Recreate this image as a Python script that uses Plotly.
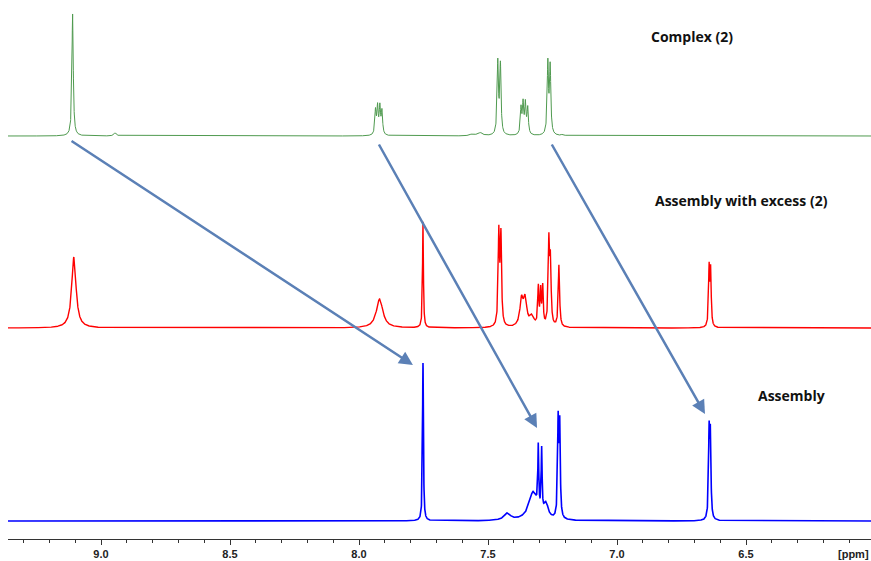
import numpy as np
import plotly.graph_objects as go

# ---------------- data ----------------
# Peak tables: chemical shift (ppm), peak height (display units), line width FWHM (ppm)
green_ppm = [9.110, 8.945, 7.936, 7.928, 7.919, 7.911, 7.560, 7.530, 7.462, 7.452,
             7.372, 7.364, 7.355, 7.346, 7.268, 7.259, 7.210]
green_h   = [122, 3, 24, 27, 27, 23, 2, 3, 72, 69,
             26, 30, 30, 26, 71, 67, 1.5]
green_w   = [0.006, 0.012, 0.006, 0.006, 0.006, 0.006, 0.02, 0.02, 0.006, 0.006,
             0.006, 0.006, 0.006, 0.006, 0.006, 0.006, 0.01]

red_ppm = [9.105, 7.920, 7.752, 7.458, 7.450, 7.370, 7.356, 7.330, 7.305, 7.296,
           7.288, 7.264, 7.258, 7.225, 6.643, 6.637]
red_h   = [71, 29, 106, 92, 88, 26, 26, 10, 38, 34,
           38, 82, 60, 62, 58, 55]
red_w   = [0.02, 0.03, 0.004, 0.006, 0.006, 0.015, 0.015, 0.02, 0.005, 0.005,
           0.005, 0.006, 0.006, 0.006, 0.005, 0.005]

blue_ppm = [7.752, 7.425, 7.325, 7.275, 7.305, 7.292, 7.228, 7.222, 6.643, 6.638]
blue_h   = [158, 7, 28, 14, 62, 62, 95, 90, 84, 80]
blue_w   = [0.004, 0.03, 0.04, 0.02, 0.004, 0.004, 0.005, 0.005, 0.005, 0.005]

spectra_names = ["Complex (2)", "Assembly with excess (2)", "Assembly"]
spectra_offsets = [403, 211, 18]

# arrows: (tail ppm, tail y, head ppm, head y)
arrows = [(9.120, 399, 7.791, 174),
          (7.926, 396, 7.310, 111),
          (7.256, 396, 6.659, 125)]

tick_vals = [9.0, 8.5, 8.0, 7.5, 7.0, 6.5]
tick_text = ["9.0", "8.5", "8.0", "7.5", "7.0", "6.5"]

# ---------------- build ----------------
ppm_grid = np.arange(6.0, 9.40, 0.0004)


def spectrum(centers, heights, widths, offset):
    y = np.zeros_like(ppm_grid)
    for c, h, w in zip(centers, heights, widths):
        y += h / (1.0 + ((ppm_grid - c) / (w / 2.0)) ** 2)
    return y + offset


fig = go.Figure()
fig.add_trace(go.Scatter(x=ppm_grid, y=spectrum(green_ppm, green_h, green_w, spectra_offsets[0]),
                         mode="lines", line=dict(color="#4f9a4f", width=1), name=spectra_names[0]))
fig.add_trace(go.Scatter(x=ppm_grid, y=spectrum(red_ppm, red_h, red_w, spectra_offsets[1]),
                         mode="lines", line=dict(color="#ff0000", width=1.4), name=spectra_names[1]))
fig.add_trace(go.Scatter(x=ppm_grid, y=spectrum(blue_ppm, blue_h, blue_w, spectra_offsets[2]),
                         mode="lines", line=dict(color="#0000ff", width=1.6), name=spectra_names[2]))

for tx, ty, hx, hy in arrows:
    fig.add_annotation(x=hx, y=hy, ax=tx, ay=ty, xref="x", yref="y", axref="x", ayref="y",
                       showarrow=True, arrowhead=2, arrowsize=1.1, arrowwidth=2.5,
                       arrowcolor="#5b80b6", text="")

FIG_W, FIG_H = 871, 561
AXIS_Y = 539            # page y of the x-axis line
PLOT_L = 8
PLOT_W = FIG_W - PLOT_L
PLOT_H = AXIS_Y

label_pos = [(692, 36), (741, 200), (791, 395)]
for name, (px, py) in zip(spectra_names, label_pos):
    fig.add_annotation(x=(px - PLOT_L) / PLOT_W, y=(AXIS_Y - py) / PLOT_H, xref="paper", yref="paper",
                       yanchor="middle", xanchor="center",
                       text="<b>%s</b>" % name, showarrow=False,
                       font=dict(family="Open Sans", size=14, color="#111111"))

fig.update_layout(
    width=FIG_W, height=FIG_H,
    margin=dict(l=PLOT_L, r=0, t=0, b=FIG_H - AXIS_Y),
    paper_bgcolor="white", plot_bgcolor="white",
    showlegend=False,
    xaxis=dict(range=[9.0 + 93 / 258, 9.0 - 770 / 258], autorange=False,
               tickvals=tick_vals, ticktext=tick_text,
               ticks="outside", ticklen=5, tickcolor="#333333", tickwidth=1,
               showline=True, linecolor="#333333", linewidth=1,
               showgrid=False, zeroline=False,
               tickfont=dict(family="Liberation Sans", size=11, color="#222222", weight="bold"),
               minor=dict(dtick=0.1, tick0=6.0, ticks="outside", ticklen=3,
                          tickcolor="#333333", showgrid=False)),
    yaxis=dict(range=[0, PLOT_H], visible=False, showgrid=False, zeroline=False),
)

fig.add_annotation(x=1.0, y=-15 / PLOT_H, xref="paper", yref="paper", xanchor="right",
                   yanchor="middle", text="[ppm]", showarrow=False,
                   font=dict(family="Liberation Sans", size=11, color="#222222", weight="bold"))

fig.write_html("out.html",
               config={"displayModeBar": False},
               post_script="document.body.style.margin='0';document.body.style.overflow='hidden';")
